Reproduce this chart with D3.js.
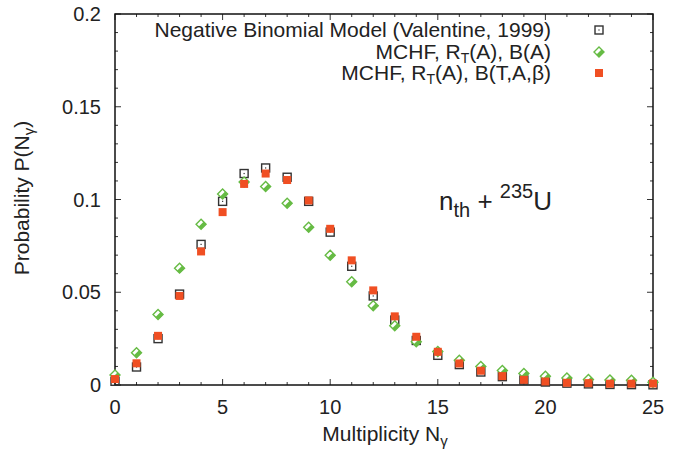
<!DOCTYPE html>
<html><head><meta charset="utf-8">
<script src="https://cdn.jsdelivr.net/npm/d3@7/dist/d3.min.js"></script>
<style>
html,body{margin:0;padding:0;background:#fff;}
svg text{font-family:"Liberation Sans",Arial,Helvetica,sans-serif;fill:#222;}
</style></head>
<body>
<svg id="c" width="691" height="455"></svg>
<script>
const multiplicity = d3.range(0, 26);
const negBinomial = [0.002, 0.0097, 0.025, 0.049, 0.0758, 0.099, 0.114, 0.117, 0.112, 0.099, 0.0824, 0.064, 0.048, 0.035, 0.024, 0.016, 0.011, 0.007, 0.0045, 0.0027, 0.0016, 0.001, 0.0006, 0.0003, 0.0002, 0.0001];
const mchfBA = [0.0054, 0.0174, 0.038, 0.063, 0.0866, 0.103, 0.1094, 0.107, 0.098, 0.085, 0.070, 0.0556, 0.0427, 0.032, 0.0233, 0.018, 0.0134, 0.010, 0.0078, 0.0062, 0.0047, 0.0038, 0.003, 0.0027, 0.0025, 0.0015];
const mchfBTAb = [0.0032, 0.0117, 0.0265, 0.048, 0.072, 0.0932, 0.1084, 0.114, 0.1105, 0.0995, 0.0842, 0.0672, 0.051, 0.037, 0.026, 0.0179, 0.0116, 0.0077, 0.0048, 0.0028, 0.0019, 0.0012, 0.001, 0.0007, 0.0007, 0.0008];
const xTicks = [0, 5, 10, 15, 20, 25];
const yTicks = [0, 0.05, 0.1, 0.15, 0.2];
const yTickLabels = ["0", "0.05", "0.1", "0.15", "0.2"];

const W = 691, H = 455;
const m = {left:115, right:691-653, top:14, bottom:455-385};
const svg = d3.select("#c");
const x = d3.scaleLinear().domain([0,25]).range([m.left, W-m.right]);
const y = d3.scaleLinear().domain([0,0.2]).range([H-m.bottom, m.top]);
const FS = 20, FL = 21;

// ticks
const g = svg.append("g");
const minorX = d3.range(0, 26), minorY = d3.range(0, 0.2001, 0.01);
function tickSet(vals, major, scale, orient){
  vals.forEach(v=>{
    const isMajor = major.some(t=>Math.abs(t-v)<1e-9);
    const L = isMajor ? 6 : 3;
    const p = scale(v);
    if(orient==="x"){
      g.append("line").attr("x1",p).attr("x2",p).attr("y1",y(0)).attr("y2",y(0)-L).attr("stroke","#333").attr("stroke-width",1);
      g.append("line").attr("x1",p).attr("x2",p).attr("y1",y(0.2)).attr("y2",y(0.2)+L).attr("stroke","#333").attr("stroke-width",1);
    } else {
      g.append("line").attr("y1",p).attr("y2",p).attr("x1",x(0)).attr("x2",x(0)+L).attr("stroke","#333").attr("stroke-width",1);
      g.append("line").attr("y1",p).attr("y2",p).attr("x1",x(25)).attr("x2",x(25)-L).attr("stroke","#333").attr("stroke-width",1);
    }
  });
}
tickSet(minorX, xTicks, x, "x");
tickSet(minorY, yTicks, y, "y");

// frame
svg.append("rect").attr("x",x(0)).attr("y",y(0.2)).attr("width",x(25)-x(0)).attr("height",y(0)-y(0.2))
  .attr("fill","none").attr("stroke","#111").attr("stroke-width",1.5);

// tick labels
svg.append("g").selectAll("text").data(xTicks).join("text")
  .attr("x",d=>x(d)).attr("y",y(0)+29).attr("text-anchor","middle").attr("font-size",FS).text(d=>d);
svg.append("g").selectAll("text").data(yTicks).join("text")
  .attr("x",x(0)-14).attr("y",d=>y(d)+7).attr("text-anchor","end").attr("font-size",FS).text((d,i)=>yTickLabels[i]);

// axis labels
const xl = svg.append("text").attr("x",385).attr("y",441).attr("text-anchor","middle").attr("font-size",FL);
xl.append("tspan").text("Multiplicity N");
xl.append("tspan").attr("dy",5).attr("font-size",15).text("γ");
const yl = svg.append("text").attr("transform","translate(29,198) rotate(-90)").attr("text-anchor","middle").attr("font-size",FL);
yl.append("tspan").text("Probability P(N");
yl.append("tspan").attr("dy",5).attr("font-size",15).text("γ");
yl.append("tspan").attr("dy",-5).text(")");

// annotation
const an = svg.append("text").attr("x",439).attr("y",210).attr("font-size",26);
an.append("tspan").text("n");
an.append("tspan").attr("dy",7).attr("font-size",20).text("th");
an.append("tspan").attr("dy",-7).text(" + ");
an.append("tspan").attr("dy",-12).attr("font-size",20).text("235");
an.append("tspan").attr("dy",12).text("U");

// markers
const GREEN = "#66bb44", RED = "#f04f23";
function drawSquareOpen(sel){
  sel.append("rect").attr("x",-4).attr("y",-4).attr("width",8).attr("height",8).attr("fill","none").attr("stroke","#333").attr("stroke-width",1.4);
  sel.append("rect").attr("x",-0.6).attr("y",-0.6).attr("width",1.2).attr("height",1.2).attr("fill","#333");
}
function drawDiamond(sel){
  const r = 5;
  sel.append("path").attr("d",`M0,${-r}L${r},0L0,${r}L${-r},0Z`).attr("fill","#fff").attr("stroke",GREEN).attr("stroke-width",1.4);
  sel.append("path").attr("d",`M${r/2},${-r/2}L${r},0L0,${r}L${-r/2},${r/2}Z`).attr("fill",GREEN);
}
function drawSquareFilled(sel){
  sel.append("rect").attr("x",-4).attr("y",-4).attr("width",8).attr("height",8).attr("fill",RED);
}
function series(vals, fn){
  const gg = svg.append("g");
  vals.forEach((v,i)=>{
    const s = gg.append("g").attr("transform",`translate(${x(multiplicity[i])},${y(v)})`);
    fn(s);
  });
}
series(negBinomial, drawSquareOpen);
series(mchfBA, drawDiamond);
series(mchfBTAb, drawSquareFilled);

// legend
const legendLabels = [
  [["Negative Binomial Model (Valentine, 1999)",0,null]],
  [["MCHF, R",0,null],["T",4,14],["(A), B(A)",-4,null]],
  [["MCHF, R",0,null],["T",4,14],["(A), B(T,A,β)",-4,null]]
];
const legendMarkers = [drawSquareOpen, drawDiamond, drawSquareFilled];
const legendY = [30, 52, 73];
legendLabels.forEach((parts,i)=>{
  const t = svg.append("text").attr("x",551).attr("y",legendY[i]+7).attr("text-anchor","end").attr("font-size",FL);
  parts.forEach(p=>{
    const ts = t.append("tspan").attr("dy",p[1]).text(p[0]);
    if(p[2]) ts.attr("font-size",p[2]);
  });
  legendMarkers[i](svg.append("g").attr("transform",`translate(599,${legendY[i]})`));
});
</script>
</body></html>
